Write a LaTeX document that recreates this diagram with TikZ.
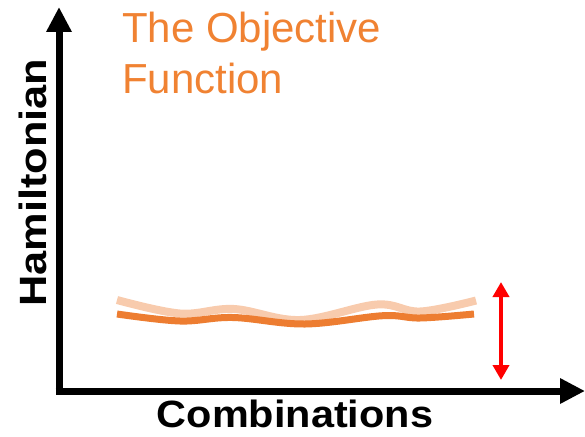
\documentclass[tikz,border=0pt]{standalone}
\usepackage{fontspec}
\setmainfont{Liberation Sans}
\usetikzlibrary{arrows.meta}
\definecolor{objorange}{HTML}{F08232}
\definecolor{curvedark}{HTML}{ED7D31}
\definecolor{curvelight}{HTML}{F8CBAD}
\tikzset{
  axisline/.style={line width=7pt, -{Triangle[length=25pt,width=24pt]}},
  redarrow/.style={red, line width=4pt, {Triangle[length=15pt,width=16pt]}-{Triangle[length=15pt,width=16pt]}},
  axislabel/.style={font=\fontsize{38}{40}\selectfont\bfseries, inner sep=0pt},
  titletext/.style={anchor=base west, inner sep=0pt, text=objorange, font=\fontsize{42}{50}\selectfont},
}
\begin{document}
\begin{tikzpicture}[x=1pt,y=-1pt]
\useasboundingbox (0,0) rectangle (585,436);
% axes
\coordinate (ytip) at (59,7);
\coordinate (xtip) at (585,391);
\coordinate (ystart) at (59,394.5);
\coordinate (xstart) at (55.5,391);
\draw[axisline] (ystart) -- (ytip);
\draw[axisline] (xstart) -- (xtip);
% labels
\node[axislabel, anchor=base] (xlab) at (295,427) {\scalebox{1.09}[1]{Combinations}};
\node[axislabel, anchor=base, rotate=90] (ylab) at (46,182.5) {\scalebox{1.14}[1]{Hamiltonian}};
\node[titletext] (title1) at (122,43) {The Objective};
\node[titletext] (title2) at (122,93) {Function};
% curves
\draw[curvelight, line width=8pt] plot[smooth, tension=0.6] coordinates {(117,300) (180,313.5) (234,309) (300,320) (377,304.5) (420,311.5) (476,300.5)};
\draw[curvedark, line width=7pt] plot[smooth, tension=0.6] coordinates {(117,314) (180,321) (233,317.5) (305,324) (383,315.7) (420,318) (474,314)};
% red double arrow
\coordinate (rtop) at (501,282);
\coordinate (rbot) at (501,380);
\draw[redarrow] (rbot) -- (rtop);
\end{tikzpicture}
\end{document}
